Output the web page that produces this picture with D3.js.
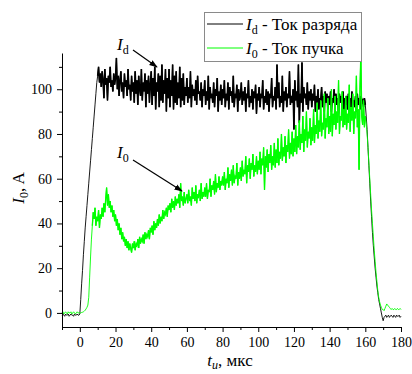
<!DOCTYPE html>
<html>
<head>
<meta charset="utf-8">
<script src="https://d3js.org/d3.v7.min.js"></script>
<style>
  body { margin: 0; background: #fff; }
</style>
</head>
<body>
<svg width="412" height="374"></svg>
<script>
// sampling grid of the scope traces, mks
var tStart = -10, tStep = 0.5;

// discharge current I_d, A (one row = 10 mks)
var idValues = [
  -1,-0.5,-1,-1.5,-0.5,-1,-1,-0.5,-1.5,-1,-0.5,-1,-1,-1.5,-0.5,-1,-1,-0.5,-1,-1,
  -0.5,6,13,19,26,32,38,43,48,53,58,63,68,73,78,83,88,93,98,103,
  106,110,103,107,101,108,104,96,109,102,105,95,106,103,110,101,104,99,107,102,
  105,114,100,106,97,104,108,99,103,96,107,101,104,97,109,100,102,95,106,99,
  103,94,108,98,104,93,106,100,97,109,95,103,99,107,92,104,98,106,94,102,
  108,93,105,97,110,91,103,99,107,92,106,95,111,94,104,98,109,90,105,96,
  109,92,104,97,111,91,106,94,108,93,103,96,110,92,105,95,107,93,101,97,
  105,94,101,96,108,92,102,97,100,95,104,93,106,98,99,95,103,92,100,97,
  104,93,99,95,106,91,101,96,98,94,103,92,100,97,105,90,99,95,102,93,
  100,96,104,92,98,95,103,91,101,97,99,94,106,92,98,96,102,90,100,95,
  97,103,93,99,95,101,90,98,96,104,92,97,94,100,91,99,96,102,89,98,
  95,101,92,98,96,104,91,97,94,100,93,99,90,98,96,105,92,97,95,101,
  91,111,96,103,92,97,94,106,90,99,95,101,92,98,96,108,93,97,94,100,
  82,104,95,99,92,111,85,98,94,112,90,101,96,98,93,103,91,99,95,100,
  92,98,95,102,90,97,94,100,91,96,95,101,92,97,90,99,94,98,91,97,
  93,99,90,96,94,100,91,98,93,96,89,98,94,97,92,99,90,96,93,97,
  91,98,94,96,90,99,93,95,92,97,90,98,93,96,91,97,94,95,92,96,
  93,88,82,74,66,58,50,43,36,30,25,20,16,12,9,6,4,2,0,-2,
  -3.5,-2,-1.5,-1,-2,-1.5,-1,-2,-1.5,-1,-1.5,-2,-1,-1.5,-2,-1,-1.5,-1.5,-1,-2,
  -1.5
];

// beam current I_0, A
var i0Values = [
  0,0.5,-0.5,0,0.5,0,-0.5,0.5,0,0,0.5,-0.5,0,0.5,0,-0.5,0,0.5,0,0,
  0,0,0.2,0.3,0.5,0.8,1.2,1.8,2.5,3.5,7,16,25,33,39,45,42,47,39,43,
  41,46,38,44,42,47,43,49,45,51,56,48,53,47,50,45,48,43,46,41,
  44,39,42,37,40,35,38,33,36,32,34,30,33,29,32,28,31,29,27,31,
  29,32,28,31,30,33,29,34,31,33,32,35,31,36,33,35,34,37,33,38,
  36,39,35,41,37,40,38,42,39,44,40,43,41,46,42,45,44,47,43,48,
  46,49,45,51,47,50,46,52,48,51,49,53,47,58,50,52,48,54,49,51,
  53,49,55,50,52,48,56,51,54,50,57,49,53,52,55,50,58,51,54,52,
  56,52,58,51,55,54,60,52,57,55,59,53,62,54,58,56,61,55,59,57,
  61,57,63,55,60,58,65,56,62,59,64,57,66,58,61,60,67,57,63,60,
  65,59,68,61,64,62,70,58,66,63,69,60,67,64,71,61,66,63,70,62,
  68,64,72,62,69,66,74,55,70,65,73,63,71,67,75,64,70,66,76,65,
  73,67,78,66,72,69,80,68,74,70,79,67,75,72,82,69,76,71,81,70,
  78,72,84,71,79,74,86,73,80,76,88,72,82,77,90,74,81,78,87,75,
  83,77,91,76,84,80,94,78,86,81,95,79,85,82,98,78,87,83,96,80,
  88,81,100,79,89,84,97,82,90,85,104,80,88,86,99,83,91,84,97,82,
  89,85,102,81,92,86,98,80,90,87,106,83,91,64,100,116,88,84,95,83,
  88,85,80,74,67,60,53,46,40,34,28,23,18,14,10,7,5,3.5,2.5,1.5,
  1.5,1,2,3,4,3.5,3,2.5,2,1.5,2,1.5,1.5,2,1.5,1.5,2,1.5,1.5,2,
  1.5
];

// time window of the noisy plateau of each trace, mks
var idPlateau = [10, 160];
var i0Plateau = [7, 160];

var xMajor = [0, 20, 40, 60, 80, 100, 120, 140, 160, 180];
var xMinor = [-10, 10, 30, 50, 70, 90, 110, 130, 150, 170];
var yMajor = [0, 20, 40, 60, 80, 100];
var yMinor = [10, 30, 50, 70, 90, 110];

var serif = "Liberation Serif";
var svg = d3.select("svg");

var x = d3.scaleLinear().domain([-10, 180]).range([62, 401]);
var y = d3.scaleLinear().domain([-6.3, 116.2]).range([327, 53]);

function toPoints(vals) {
  return vals.map(function(v, i) { return [tStart + i * tStep, v]; });
}
function inWindow(pts, win) {
  return pts.filter(function(d) { return d[0] >= win[0] && d[0] <= win[1]; });
}

var line = d3.line()
  .x(function(d) { return x(d[0]); })
  .y(function(d) { return y(d[1]); });

var idPts = toPoints(idValues);
var i0Pts = toPoints(i0Values);

var traces = svg.append("g");
// full traces thin, dense noisy parts drawn a bit heavier
traces.append("path")
  .attr("d", line(idPts))
  .attr("fill", "none")
  .attr("stroke", "#000")
  .attr("stroke-width", 0.9);
traces.append("path")
  .attr("d", line(inWindow(idPts, idPlateau)))
  .attr("fill", "none")
  .attr("stroke", "#000")
  .attr("stroke-width", 1.6);
traces.append("path")
  .attr("d", line(i0Pts))
  .attr("fill", "none")
  .attr("stroke", "#00ff00")
  .attr("stroke-width", 0.9);
traces.append("path")
  .attr("d", line(inWindow(i0Pts, i0Plateau)))
  .attr("fill", "none")
  .attr("stroke", "#00ff00")
  .attr("stroke-width", 1.3);

// axes: major with labels, minor without
svg.append("g")
  .attr("transform", "translate(0,327)")
  .call(d3.axisBottom(x).tickValues(xMinor).tickSize(3).tickFormat(""))
  .call(function(g) { g.select(".domain").remove(); });
svg.append("g")
  .attr("transform", "translate(0,327)")
  .call(d3.axisBottom(x).tickValues(xMajor).tickSize(5).tickSizeOuter(0).tickPadding(5));

svg.append("g")
  .attr("transform", "translate(62,0)")
  .call(d3.axisLeft(y).tickValues(yMinor).tickSize(3).tickFormat(""))
  .call(function(g) { g.select(".domain").remove(); });
svg.append("g")
  .attr("transform", "translate(62,0)")
  .call(d3.axisLeft(y).tickValues(yMajor).tickSize(5).tickSizeOuter(0).tickPadding(5));

svg.selectAll(".tick text")
  .attr("font-size", 14)
  .attr("font-family", serif);
svg.selectAll(".domain, .tick line").attr("stroke", "#000").attr("stroke-width", 1);

// axis titles
var yTitle = svg.append("text")
  .attr("transform", "translate(24,188) rotate(-90)")
  .attr("text-anchor", "middle")
  .attr("font-family", serif)
  .attr("font-size", 17);
yTitle.append("tspan").attr("font-style", "italic").text("I");
yTitle.append("tspan").attr("font-size", 12).attr("dy", 4).text("0");
yTitle.append("tspan").attr("dy", -4).text(", A");

var xTitle = svg.append("text")
  .attr("x", 230).attr("y", 366)
  .attr("text-anchor", "middle")
  .attr("font-family", serif)
  .attr("font-size", 17);
xTitle.append("tspan").attr("font-style", "italic").text("t");
xTitle.append("tspan").attr("font-size", 12).attr("font-style", "italic").attr("dy", 3).text("и");
xTitle.append("tspan").attr("dy", -3).text(", мкс");

// arrows for the trace labels
svg.append("defs").append("marker")
  .attr("id", "arrow")
  .attr("viewBox", "0 0 10 10")
  .attr("refX", 9).attr("refY", 5)
  .attr("markerWidth", 7).attr("markerHeight", 7)
  .attr("orient", "auto")
  .append("path")
  .attr("d", "M0,1.5 L10,5 L0,8.5 Z")
  .attr("fill", "#000");

function label(tx, ty, sub, arrowFrom, arrowTo) {
  var t = svg.append("text").attr("x", tx).attr("y", ty)
    .attr("font-family", serif).attr("font-size", 17);
  t.append("tspan").attr("font-style", "italic").text("I");
  t.append("tspan").attr("font-size", 12).attr("dy", 4).text(sub);
  svg.append("line")
    .attr("x1", arrowFrom[0]).attr("y1", arrowFrom[1])
    .attr("x2", arrowTo[0]).attr("y2", arrowTo[1])
    .attr("stroke", "#000").attr("stroke-width", 1.2)
    .attr("marker-end", "url(#arrow)");
}
label(117, 50, "d", [133, 50], [157, 67]);
label(117, 158, "0", [133, 160], [182, 191]);

// legend
var legend = svg.append("g");
legend.append("rect")
  .attr("x", 204.5).attr("y", 12.5)
  .attr("width", 157).attr("height", 49)
  .attr("fill", "#fff")
  .attr("stroke", "#8a8a8a")
  .attr("stroke-width", 1);
var legendItems = [
  { sub: "d", name: " - Ток разряда", color: "#000" },
  { sub: "0", name: " - Ток пучка", color: "#00ff00" }
];
legendItems.forEach(function(d, i) {
  var ly = 24 + i * 24;
  legend.append("line")
    .attr("x1", 207).attr("x2", 243)
    .attr("y1", ly).attr("y2", ly)
    .attr("stroke", d.color).attr("stroke-width", 1);
  var t = legend.append("text").attr("x", 246).attr("y", ly + 6)
    .attr("font-family", serif).attr("font-size", 17);
  t.append("tspan").attr("font-style", "italic").text("I");
  t.append("tspan").attr("font-size", 12).attr("dy", 4).text(d.sub);
  t.append("tspan").attr("dy", -4).text(d.name);
});
</script>
</body>
</html>
